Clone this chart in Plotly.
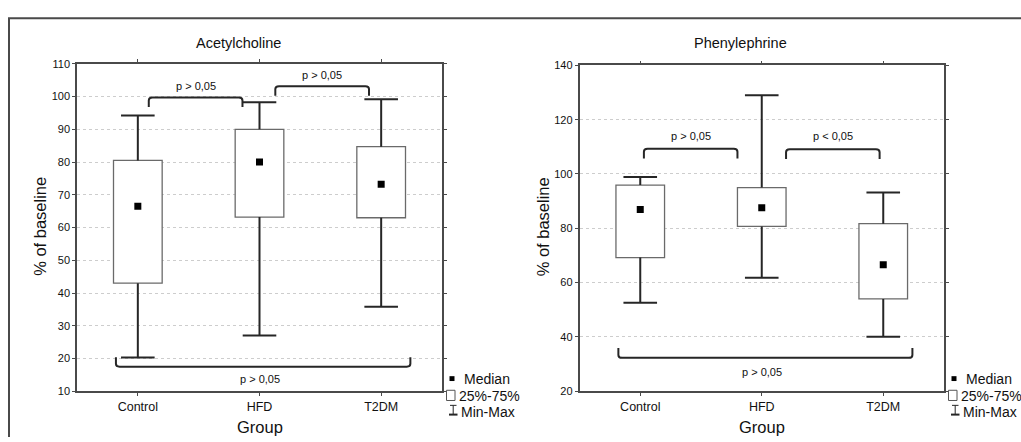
import plotly.graph_objects as go

# ---------------- data ----------------
groups = ["Control", "HFD", "T2DM"]

ach_min = [20.3, 27.0, 35.8]
ach_q1 = [43.0, 63.2, 63.0]
ach_median = [66.5, 80.0, 73.2]
ach_q3 = [80.5, 90.0, 84.7]
ach_max = [94.2, 98.3, 99.2]

phe_min = [52.6, 61.8, 40.1]
phe_q1 = [69.2, 80.7, 54.0]
phe_median = [86.9, 87.6, 66.6]
phe_q3 = [95.9, 95.0, 81.7]
phe_max = [98.9, 129.0, 93.2]

# comparisons: (from group pos, to group pos, bracket level, label, label level)
ach_comparisons = [(0.09, 0.86, 99.7, "p > 0,05", 103.3),
                   (1.13, 1.90, 103.2, "p > 0,05", 106.7),
                   (-0.18, 2.24, 17.5, "p > 0,05", 13.8)]
phe_comparisons = [(0.03, 0.80, 109.3, "p > 0,05", 114.1),
                   (1.20, 1.97, 109.1, "p < 0,05", 114.1),
                   (-0.18, 2.24, 32.3, "p > 0,05", 27.2)]

# ---------------- layout helpers ----------------
W, H = 1021, 442
FONT = "Liberation Sans, Arial, sans-serif"
TXT = "#111111"
INK = "#262626"


def px(x):
    return x / W


def py(y):
    return 1 - y / H


fig = go.Figure()

panels = [
    dict(xa="x", ya="y", mn=ach_min, q1=ach_q1, med=ach_median, q3=ach_q3, mx=ach_max,
         cmp=ach_comparisons, tick=2.9, title="Acetylcholine", xdom=(77, 442), ytop=59.5,
         yrange=[10, 110], dtick=10, title_x=238, ylab_x=40, legend_dx=0),
    dict(xa="x2", ya="y2", mn=phe_min, q1=phe_q1, med=phe_median, q3=phe_q3, mx=phe_max,
         cmp=phe_comparisons, tick=3.6, title="Phenylephrine", xdom=(579.5, 944), ytop=61,
         yrange=[20, 140], dtick=20, title_x=740, ylab_x=542.5, legend_dx=502),
]

pos = list(range(len(groups)))
shapes = []
annotations = []


def ann(**kw):
    kw.setdefault("showarrow", False)
    kw.setdefault("xanchor", "center")
    kw.setdefault("yanchor", "middle")
    annotations.append(kw)


for p in panels:
    xa, ya = p["xa"], p["ya"]
    # boxes (25%-75%)
    fig.add_trace(go.Bar(
        x=pos, base=p["q1"], y=[b - a for a, b in zip(p["q1"], p["q3"])], width=0.4,
        marker=dict(color="white", line=dict(color="#6a6a6a", width=1.3)),
        xaxis=xa, yaxis=ya, showlegend=False, hoverinfo="skip"))
    # whiskers
    wx, wy = [], []
    for i in pos:
        wx += [i, i, None, i, i, None]
        wy += [p["q3"][i], p["mx"][i], None, p["q1"][i], p["mn"][i], None]
    fig.add_trace(go.Scatter(x=wx, y=wy, mode="lines", line=dict(color=INK, width=2),
                             xaxis=xa, yaxis=ya, showlegend=False, hoverinfo="skip"))
    # caps
    fig.add_trace(go.Scatter(x=pos + pos, y=p["mn"] + p["mx"], mode="markers",
                             marker=dict(symbol="line-ew", size=24, line=dict(color=INK, width=2)),
                             xaxis=xa, yaxis=ya, showlegend=False, hoverinfo="skip"))
    # medians
    fig.add_trace(go.Scatter(x=pos, y=p["med"], mode="markers",
                             marker=dict(symbol="square", size=7, color="black"),
                             xaxis=xa, yaxis=ya, showlegend=False, hoverinfo="skip"))

    # significance brackets
    for (x1, x2, lev, lab, laby) in p["cmp"]:
        d = p["tick"] if laby > lev else -p["tick"]  # tips point away from label
        tip = lev - d
        r = 0.03
        rr = d * 0.3
        path = (f"M {x1},{tip} L {x1},{lev - rr} Q {x1},{lev} {x1 + r},{lev} "
                f"L {x2 - r},{lev} Q {x2},{lev} {x2},{lev - rr} L {x2},{tip}")
        shapes.append(dict(type="path", path=path, xref=xa, yref=ya,
                           line=dict(color=INK, width=2)))
        cx = (x1 + x2) / 2 if (x2 - x1) < 1.5 else 1.0
        ann(x=cx, y=laby, xref=xa, yref=ya, text=lab,
            font=dict(family=FONT, size=11, color=TXT))

    # panel title
    ann(x=px(p["title_x"]), y=py(38), xref="paper", yref="paper", text=p["title"],
        font=dict(family=FONT, size=14.5, color=TXT))
    # axis titles
    ann(x=px(p["ylab_x"]), y=py(227), xref="paper", yref="paper", text="% of baseline",
        textangle=-90, font=dict(family=FONT, size=16.5, color=TXT))
    cxp = (p["xdom"][0] + p["xdom"][1]) / 2
    ann(x=px(cxp), y=py(433), xref="paper", yref="paper", text="Group",
        font=dict(family=FONT, size=16.5, color=TXT))

    # legend (drawn manually)
    dx = p["legend_dx"]
    shapes.append(dict(type="rect", xref="paper", yref="paper",
                       x0=px(449.5 + dx), x1=px(454.5 + dx), y0=py(385.5), y1=py(380.5),
                       fillcolor="black", line=dict(width=0)))
    shapes.append(dict(type="rect", xref="paper", yref="paper",
                       x0=px(446.5 + dx), x1=px(455 + dx), y0=py(405.5), y1=py(395),
                       fillcolor="white", line=dict(color="#555", width=1)))
    shapes.append(dict(type="line", xref="paper", yref="paper",
                       x0=px(450 + dx), x1=px(456.5 + dx), y0=py(410.5), y1=py(410.5),
                       line=dict(color=INK, width=1)))
    shapes.append(dict(type="line", xref="paper", yref="paper",
                       x0=px(453.2 + dx), x1=px(453.2 + dx), y0=py(410.5), y1=py(420),
                       line=dict(color=INK, width=1)))
    shapes.append(dict(type="line", xref="paper", yref="paper",
                       x0=px(449 + dx), x1=px(457.5 + dx), y0=py(420), y1=py(420),
                       line=dict(color=INK, width=2)))
    for lx, ly, lt in [(461.5, 383, "Median"), (456.5, 400.5, "25%-75%"), (458.5, 417.5, "Min-Max")]:
        ann(x=px(lx + dx), y=py(ly), xref="paper", yref="paper", text=lt, xanchor="left",
            font=dict(family=FONT, size=14, color=TXT))

# outer frame
shapes.append(dict(type="path", xref="paper", yref="paper",
                   path=f"M {px(9)},{py(443)} L {px(9)},{py(12.5)} L {px(1022)},{py(12.5)}",
                   line=dict(color="#4a4a4a", width=2)))


def xaxis(p, anchor):
    return dict(domain=[px(p["xdom"][0]), px(p["xdom"][1])], range=[-0.5, 2.5],
                tickvals=pos, ticktext=groups, showgrid=False, zeroline=False,
                showline=True, linecolor="#4a4a4a", linewidth=1.5, mirror="ticks",
                ticks="outside", ticklen=3, tickcolor="#4a4a4a", anchor=anchor,
                tickfont=dict(family=FONT, size=12.5, color=TXT), fixedrange=True)


def yaxis(p, anchor):
    return dict(domain=[py(396), py(p["ytop"])], range=p["yrange"], dtick=p["dtick"],
                showgrid=True, gridcolor="#cdcdcd", griddash="dot", gridwidth=1,
                zeroline=False, showline=True, linecolor="#4a4a4a", linewidth=1.5,
                mirror="ticks", ticks="outside", ticklen=3, tickcolor="#4a4a4a",
                anchor=anchor, tickfont=dict(family=FONT, size=11, color=TXT),
                fixedrange=True)


fig.update_layout(
    width=W, height=H, margin=dict(l=0, r=0, t=0, b=0),
    paper_bgcolor="white", plot_bgcolor="white",
    xaxis=xaxis(panels[0], "y"), yaxis=yaxis(panels[0], "x"),
    xaxis2=xaxis(panels[1], "y2"), yaxis2=yaxis(panels[1], "x2"),
    shapes=shapes, annotations=annotations, showlegend=False,
    font=dict(family=FONT, color=TXT),
)

# remove the default page margin so the figure fills the window exactly
fig.write_html("out.html", config={"displayModeBar": False},
               post_script="document.body.style.margin='0';document.body.style.overflow='hidden';")
